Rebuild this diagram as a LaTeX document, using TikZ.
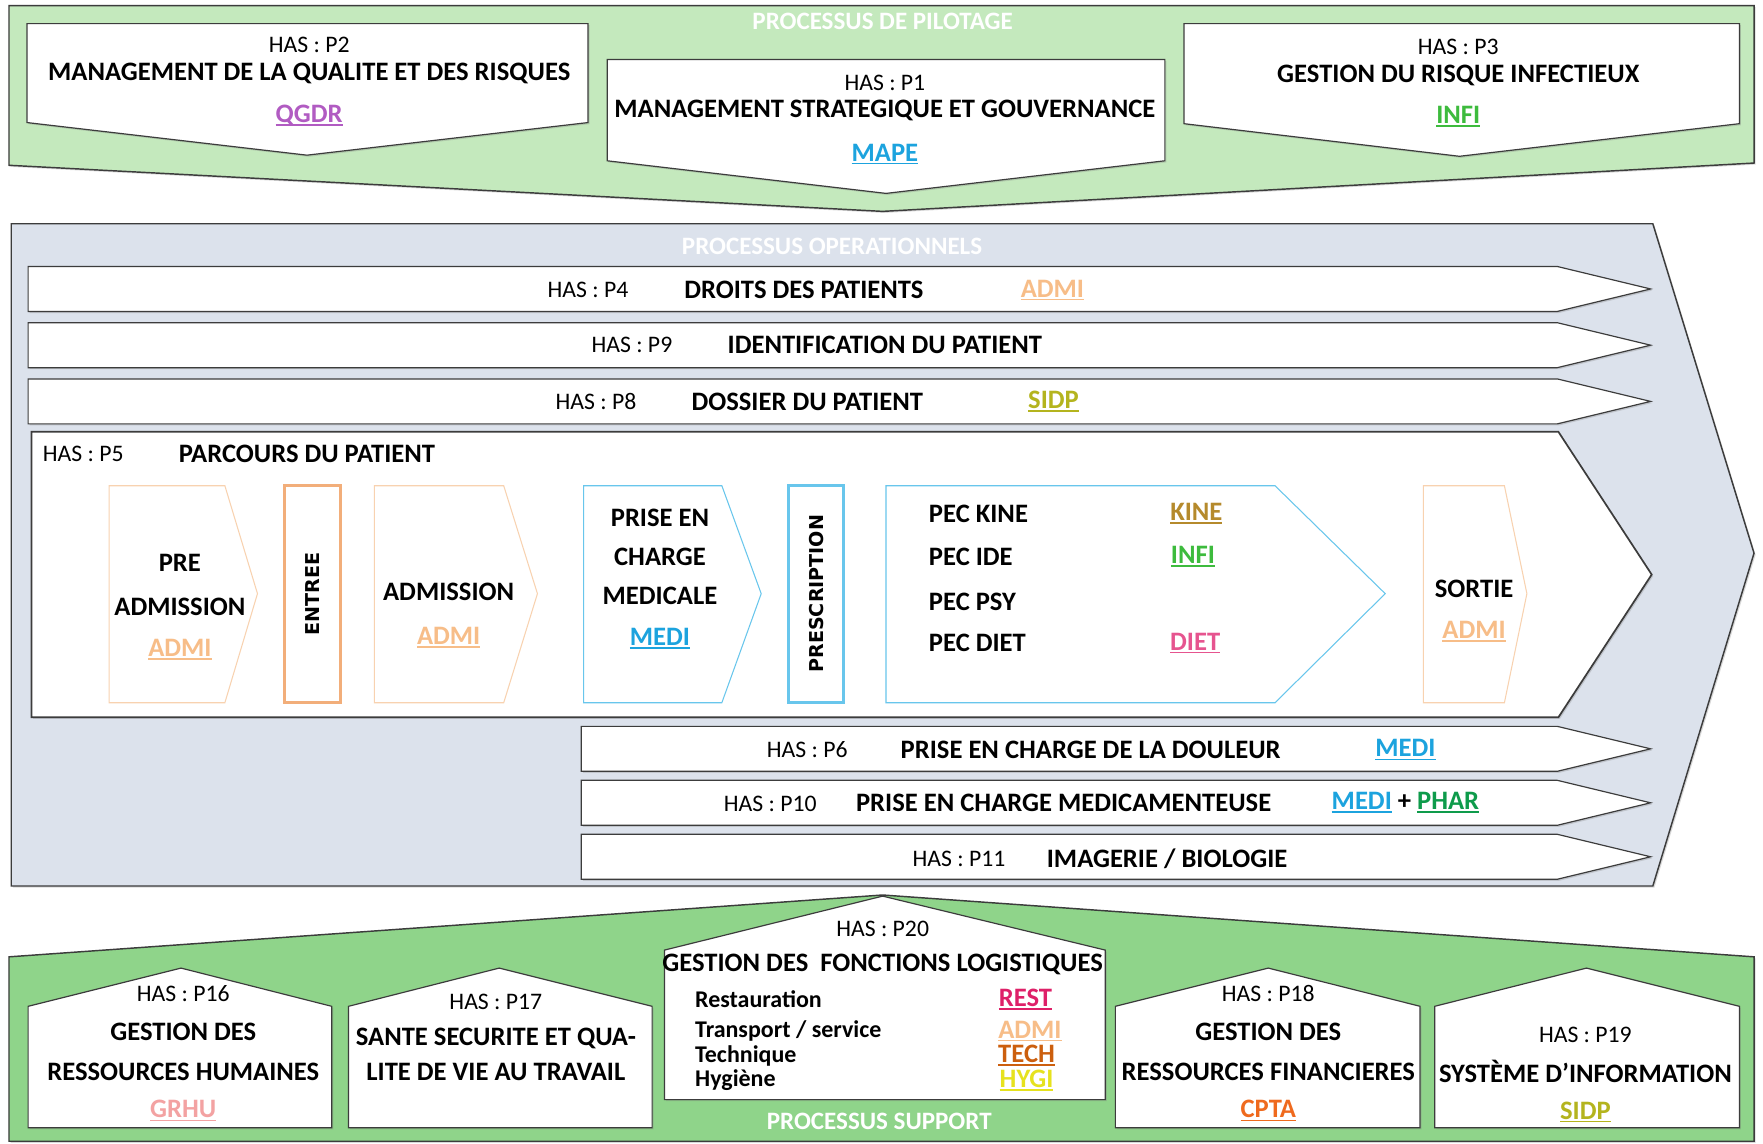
\documentclass[tikz,border=0pt]{standalone}
\usepackage{fontspec}
\setmainfont{Carlito}
\newfontfamily\gothicfont{DejaVu Sans}
\usepackage{xcolor}
\usetikzlibrary{shadows}

\definecolor{pilotfill}{HTML}{C4E9BD}
\definecolor{supportfill}{HTML}{8FD48A}
\definecolor{opfill}{HTML}{DCE2EC}
\definecolor{edge}{HTML}{3C3C3C}
\definecolor{admi}{HTML}{F7BD88}
\definecolor{admiline}{HTML}{F8D2B0}
\definecolor{entree}{HTML}{F2AE7A}
\definecolor{medi}{HTML}{1CA3DE}
\definecolor{mediline}{HTML}{68C6EC}
\definecolor{qgdr}{HTML}{B15BC2}
\definecolor{infi}{HTML}{3DBB3D}
\definecolor{sidp}{HTML}{B4B41E}
\definecolor{kine}{HTML}{B58A2C}
\definecolor{diet}{HTML}{E6548F}
\definecolor{phar}{HTML}{0E9B4B}
\definecolor{grhu}{HTML}{F3A2A2}
\definecolor{rest}{HTML}{DE2068}
\definecolor{tech}{HTML}{CC5F0E}
\definecolor{hygi}{HTML}{E6E21E}
\definecolor{cpta}{HTML}{EF6A1E}

% thick underline for the service codes
\newcommand{\codeul}[1]{\setbox0\hbox{#1}\leavevmode\rlap{\rule[-2.5pt]{\wd0}{1.3pt}}\box0}

\begin{document}
\begin{tikzpicture}[x=0.03cm, y=-0.03cm,
  band/.style={draw=edge, line width=1.1pt, drop shadow={shadow xshift=1.2pt, shadow yshift=-1.2pt, opacity=0.3}},
  box/.style={draw=edge, fill=white, line width=0.9pt, drop shadow={shadow xshift=1.2pt, shadow yshift=-1.2pt, opacity=0.3}},
  stage/.style={draw=#1, fill=white, line width=0.8pt},
  bar/.style={draw=#1, fill=white, line width=2.2pt},
  lbl/.style={inner sep=0pt, font=\fontsize{20.2}{22}\selectfont\bfseries},
  has/.style={inner sep=0pt, font=\fontsize{18}{20}\selectfont},
  pec/.style={lbl, anchor=west},
  item/.style={inner sep=0pt, anchor=west, font=\fontsize{18.2}{20}\selectfont\bfseries},
  code/.style={lbl, text=#1},
  title/.style={inner sep=0pt, text=white, font=\fontsize{19}{22}\selectfont\bfseries},
  vert/.style={inner sep=0pt, rotate=90, font=\gothicfont\fontsize{14.5}{16}\selectfont\bfseries}]
\useasboundingbox (0,0) rectangle (1568,1017);
\fill[white] (0,0) rectangle (1568,1017);

% Processus de pilotage
\filldraw[band, fill=pilotfill] (8,5) -- (1560,5) -- (1560,145) -- (785,188) -- (8,147) -- cycle;
\node[title] (tpilot) at (785,19) {PROCESSUS DE PILOTAGE};

\filldraw[box] (24,21) -- (523,21) -- (523,109) -- (273,138) -- (24,109) -- cycle;
\node[has] (p2has) at (275,40) {HAS : P2};
\node[lbl] (p2) at (275,65) {MANAGEMENT DE LA QUALITE ET DES RISQUES};
\node[code=qgdr] (p2code) at (275,103) {\codeul{QGDR}};

\filldraw[box] (540,53) -- (1036,53) -- (1036,143) -- (788,172) -- (540,143) -- cycle;
\node[has] (p1has) at (787,74) {HAS : P1};
\node[lbl] (p1) at (787,98) {MANAGEMENT STRATEGIQUE ET GOUVERNANCE};
\node[code=medi] (p1code) at (787,137) {\codeul{MAPE}};

\filldraw[box] (1053,21) -- (1547,21) -- (1547,110) -- (1298,139) -- (1053,110) -- cycle;
\node[has] (p3has) at (1297,42) {HAS : P3};
\node[lbl] (p3) at (1297,67) {GESTION DU RISQUE INFECTIEUX};
\node[code=infi] (p3code) at (1297,104) {\codeul{INFI}};

% Processus operationnels
\filldraw[band, fill=opfill] (10,199) -- (1470,199) -- (1560,492) -- (1470,788) -- (10,788) -- cycle;
\node[title] (toper) at (740,219) {PROCESSUS OPERATIONNELS};

\foreach \y in {237,287,337}
  \filldraw[box] (25,\y) -- (1385,\y) -- (1468,\y+20) -- (1385,\y+40) -- (25,\y+40) -- cycle;
\foreach \y in {646,694,742}
  \filldraw[box] (517,\y) -- (1385,\y) -- (1468,\y+20) -- (1385,\y+40) -- (517,\y+40) -- cycle;

\node[has] (p4has) at (523,258) {HAS : P4};
\node[lbl] (p4) at (715,258) {DROITS DES PATIENTS};
\node[code=admi] (p4code) at (936,258) {\codeul{ADMI}};
\node[has] (p9has) at (562,307) {HAS : P9};
\node[lbl] (p9) at (787,307) {IDENTIFICATION DU PATIENT};
\node[has] (p8has) at (530,357) {HAS : P8};
\node[lbl] (p8) at (718,357) {DOSSIER DU PATIENT};
\node[code=sidp] (p8code) at (937,357) {\codeul{SIDP}};

% Parcours du patient
\filldraw[box, line width=1.3pt] (28,384) -- (1386,384) -- (1469,511) -- (1386,638) -- (28,638) -- cycle;
\node[has] (p5has) at (74,404) {HAS : P5};
\node[lbl] (p5) at (273,404) {PARCOURS DU PATIENT};

\filldraw[stage=admiline] (97,432) -- (200,432) -- (229,528) -- (200,625) -- (97,625) -- cycle;
\node[lbl] (pre1) at (160,501) {PRE};
\node[lbl] (pre2) at (160,540) {ADMISSION};
\node[code=admi] (precode) at (160,578) {\codeul{ADMI}};

\filldraw[bar=entree] (253,432) rectangle (303,625);
\node[vert] (entree) at (278,528) {ENTREE};

\filldraw[stage=admiline] (333,432) -- (448,432) -- (478,528) -- (448,625) -- (333,625) -- cycle;
\node[lbl] (adm) at (399,526) {ADMISSION};
\node[code=admi] (admcode) at (399,567) {\codeul{ADMI}};

\filldraw[stage=mediline] (519,432) -- (642,432) -- (677,528) -- (642,625) -- (519,625) -- cycle;
\node[lbl] (pcm1) at (587,461) {PRISE EN};
\node[lbl] (pcm2) at (587,495) {CHARGE};
\node[lbl] (pcm3) at (587,530) {MEDICALE};
\node[code=medi] (pcmcode) at (587,568) {\codeul{MEDI}};

\filldraw[bar=mediline] (701,432) rectangle (750,625);
\node[vert] (presc) at (726,528) {PRESCRIPTION};

\filldraw[stage=mediline] (788,432) -- (1134,432) -- (1232,528) -- (1134,625) -- (788,625) -- cycle;
\node[pec] (kine) at (826,457) {PEC KINE};
\node[pec] (ide) at (826,495) {PEC IDE};
\node[pec] (psy) at (826,535) {PEC PSY};
\node[pec] (diet) at (826,572) {PEC DIET};
\node[code=kine] (kinecode) at (1064,457) {\codeul{KINE}};
\node[code=infi] (idecode) at (1061,495) {\codeul{INFI}};
\node[code=diet] (dietcode) at (1063,572) {\codeul{DIET}};

\filldraw[stage=admiline] (1266,432) -- (1338,432) -- (1358,528) -- (1338,625) -- (1266,625) -- cycle;
\node[lbl] (sortie) at (1311,524) {SORTIE};
\node[code=admi] (sortiecode) at (1311,562) {\codeul{ADMI}};

% Prises en charge transverses
\node[has] (p6has) at (718,667) {HAS : P6};
\node[lbl] (p6) at (970,667) {PRISE EN CHARGE DE LA DOULEUR};
\node[code=medi] (p6code) at (1250,667) {\codeul{MEDI}};
\node[has] (p10has) at (685,715) {HAS : P10};
\node[lbl] (p10) at (946,714) {PRISE EN CHARGE MEDICAMENTEUSE};
\node[lbl] (p10code) at (1250,714) {\textcolor{medi}{\codeul{MEDI}} + \textcolor{phar}{\codeul{PHAR}}};
\node[has] (p11has) at (853,764) {HAS : P11};
\node[lbl] (p11) at (1038,764) {IMAGERIE / BIOLOGIE};

% Processus support
\filldraw[band, fill=supportfill] (8,851) -- (785,796) -- (1560,851) -- (1560,1015) -- (8,1015) -- cycle;
\node[title] (tsupport) at (782,997) {PROCESSUS SUPPORT};

\filldraw[box] (25,895) -- (161,861) -- (295,895) -- (295,1003) -- (25,1003) -- cycle;
\node[has] (p16has) at (163,884) {HAS : P16};
\node[lbl] (p16a) at (163,918) {GESTION DES};
\node[lbl] (p16b) at (163,953) {RESSOURCES HUMAINES};
\node[code=grhu] (p16code) at (163,988) {\codeul{GRHU}};

\filldraw[box] (310,895) -- (444,861) -- (580,895) -- (580,1003) -- (310,1003) -- cycle;
\node[has] (p17has) at (441,891) {HAS : P17};
\node[lbl] (p17a) at (441,924) {SANTE SECURITE ET QUA-};
\node[lbl] (p17b) at (441,953) {LITE DE VIE AU TRAVAIL};

\filldraw[box] (591,845) -- (785,797) -- (983,845) -- (983,978) -- (591,978) -- cycle;
\node[has] (p20has) at (785,826) {HAS : P20};
\node[lbl] (p20) at (785,858) {GESTION DES~ FONCTIONS LOGISTIQUES};
\node[item] (rest) at (618,889) {Restauration};
\node[item] (transp) at (618,917) {Transport / service};
\node[item] (techn) at (618,939) {Technique};
\node[item] (hyg) at (618,961) {Hygiène};
\node[code=rest] (restcode) at (912,889) {\codeul{REST}};
\node[code=admi] (transpcode) at (916,917) {\codeul{ADMI}};
\node[code=tech] (techcode) at (913,939) {\codeul{TECH}};
\node[code=hygi] (hygcode) at (913,961) {\codeul{HYGI}};

\filldraw[box] (992,895) -- (1128,861) -- (1263,895) -- (1263,1003) -- (992,1003) -- cycle;
\node[has] (p18has) at (1128,884) {HAS : P18};
\node[lbl] (p18a) at (1128,918) {GESTION DES};
\node[lbl] (p18b) at (1128,953) {RESSOURCES FINANCIERES};
\node[code=cpta] (p18code) at (1128,988) {\codeul{CPTA}};

\filldraw[box] (1276,895) -- (1411,861) -- (1547,895) -- (1547,1003) -- (1276,1003) -- cycle;
\node[has] (p19has) at (1410,920) {HAS : P19};
\node[lbl] (p19) at (1410,953) {SYSTÈME D’INFORMATION};
\node[code=sidp] (p19code) at (1410,989) {\codeul{SIDP}};
\end{tikzpicture}
\end{document}
